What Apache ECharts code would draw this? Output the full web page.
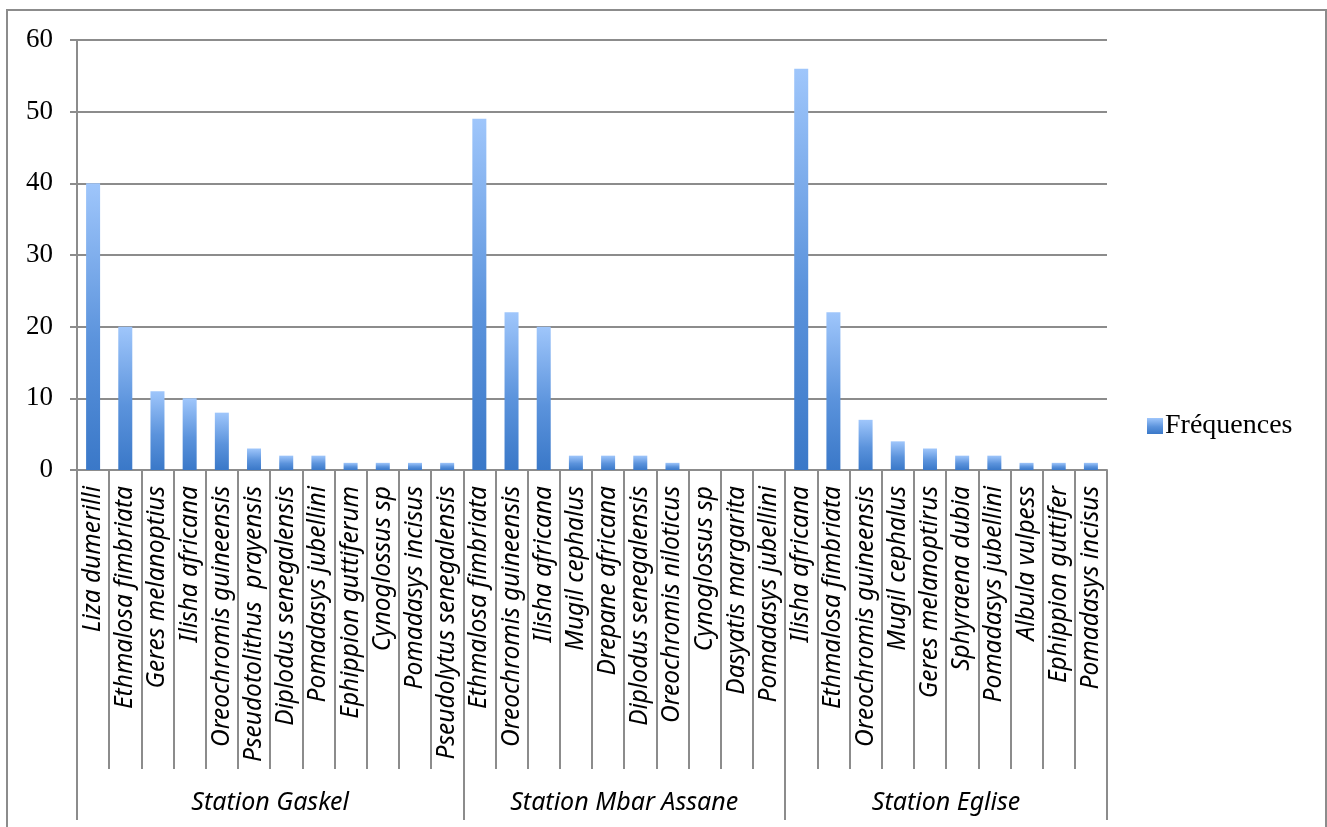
<!DOCTYPE html>
<html>
<head>
<meta charset="utf-8">
<script src="https://cdn.jsdelivr.net/npm/echarts@6/dist/echarts.min.js"></script>
<style>
  html, body { margin: 0; padding: 0; background: #fff; }
  #chart { width: 1327px; height: 827px; }
</style>
</head>
<body>
<div id="chart"></div>
<script>
// Species observed at each station, in plotting order
const stations = ['Station Gaskel', 'Station Mbar Assane', 'Station Eglise'];
const speciesGaskel = [
  'Liza dumerilli', 'Ethmalosa fimbriata', 'Geres melanoptius', 'Ilisha africana',
  'Oreochromis guineensis', 'Pseudotolithus  prayensis', 'Diplodus senegalensis',
  'Pomadasys jubellini', 'Ephippion guttiferum', 'Cynoglossus sp', 'Pomadasys incisus',
  'Pseudolytus senegalensis'
];
const speciesMbar = [
  'Ethmalosa fimbriata', 'Oreochromis guineensis', 'Ilisha africana', 'Mugil cephalus',
  'Drepane africana', 'Diplodus senegalensis', 'Oreochromis niloticus', 'Cynoglossus sp',
  'Dasyatis margarita', 'Pomadasys jubellini'
];
const speciesEglise = [
  'Ilisha africana', 'Ethmalosa fimbriata', 'Oreochromis guineensis', 'Mugil cephalus',
  'Geres melanoptirus', 'Sphyraena dubia', 'Pomadasys jubellini', 'Albula vulpess',
  'Ephippion guttifer', 'Pomadasys incisus'
];

// Frequencies per station
const freqGaskel = [40, 20, 11, 10, 8, 3, 2, 2, 1, 1, 1, 1];
const freqMbar = [49, 22, 20, 2, 2, 2, 1, 0, 0, 0];
const freqEglise = [56, 22, 7, 4, 3, 2, 2, 1, 1, 1];

const yTicks = { min: 0, max: 60, interval: 10 };
const seriesName = 'Fréquences';

const categories = [...speciesGaskel, ...speciesMbar, ...speciesEglise];
const values = [...freqGaskel, ...freqMbar, ...freqEglise];

// Station boundaries and label positions along the category count
const groupSizes = [speciesGaskel.length, speciesMbar.length, speciesEglise.length];
const bounds = [0];
groupSizes.forEach(n => bounds.push(bounds[bounds.length - 1] + n));
const centers = groupSizes.map((n, i) => bounds[i] + n / 2);
const total = bounds[bounds.length - 1];

const gray = '#8c8c8c';
const serif = '"Liberation Serif", "DejaVu Serif", serif';
const labelFont = '"Noto Sans", "Open Sans", sans-serif';

const chart = echarts.init(document.getElementById('chart'), null, { renderer: 'canvas' });

chart.setOption({
  animation: false,
  backgroundColor: '#fff',
  graphic: [{
    type: 'rect',
    shape: { x: 7, y: 10, width: 1319, height: 830 },
    style: { fill: 'none', stroke: '#8c8c8c', lineWidth: 2 },
    silent: true
  }],
  legend: {
    data: [seriesName],
    left: 1142,
    top: 407,
    itemWidth: 16,
    itemHeight: 16,
    itemGap: 6,
    textStyle: { fontFamily: serif, fontSize: 28, color: '#000', padding: [0, 0, 0, -3] },
    icon: 'rect'
  },
  grid: { left: 77, right: 220, top: 40, bottom: 357, containLabel: false },
  xAxis: [
    {
      type: 'category',
      data: categories,
      position: 'bottom',
      boundaryGap: true,
      axisLine: { show: true, lineStyle: { color: gray, width: 2 } },
      axisTick: { show: true, interval: 0, length: 299, lineStyle: { color: gray, width: 2 } },
      axisLabel: {
        interval: 0,
        rotate: 90,
        margin: 16,
        fontFamily: labelFont,
        fontStyle: 'italic',
        fontSize: 24.5,
        color: '#000'
      },
      splitLine: { show: false }
    },
    {
      type: 'value',
      min: 0,
      max: total,
      position: 'bottom',
      axisLine: { show: false },
      axisTick: {
        show: true,
        customValues: bounds,
        length: 350,
        lineStyle: { color: gray, width: 2 }
      },
      axisLabel: {
        customValues: centers,
        margin: 320,
        fontFamily: labelFont,
        fontStyle: 'italic',
        fontSize: 25,
        color: '#000',
        formatter: v => {
          const i = centers.indexOf(v);
          return i >= 0 ? stations[i] : '';
        }
      },
      splitLine: { show: false }
    }
  ],
  yAxis: {
    type: 'value',
    min: yTicks.min,
    max: yTicks.max,
    interval: yTicks.interval,
    axisLine: { show: true, lineStyle: { color: gray, width: 2 } },
    axisTick: { show: true, length: 7, lineStyle: { color: gray, width: 2 } },
    axisLabel: { margin: 24, fontFamily: serif, fontSize: 27, color: '#000' },
    splitLine: { show: true, lineStyle: { color: gray, width: 2 } }
  },
  series: [{
    name: seriesName,
    type: 'bar',
    xAxisIndex: 0,
    data: values,
    barWidth: 14,
    itemStyle: {
      color: new echarts.graphic.LinearGradient(0, 0, 0, 1, [
        { offset: 0, color: '#9fc6fb' },
        { offset: 0.55, color: '#5b93dc' },
        { offset: 1, color: '#3a78c8' }
      ])
    }
  }]
});
</script>
</body>
</html>
